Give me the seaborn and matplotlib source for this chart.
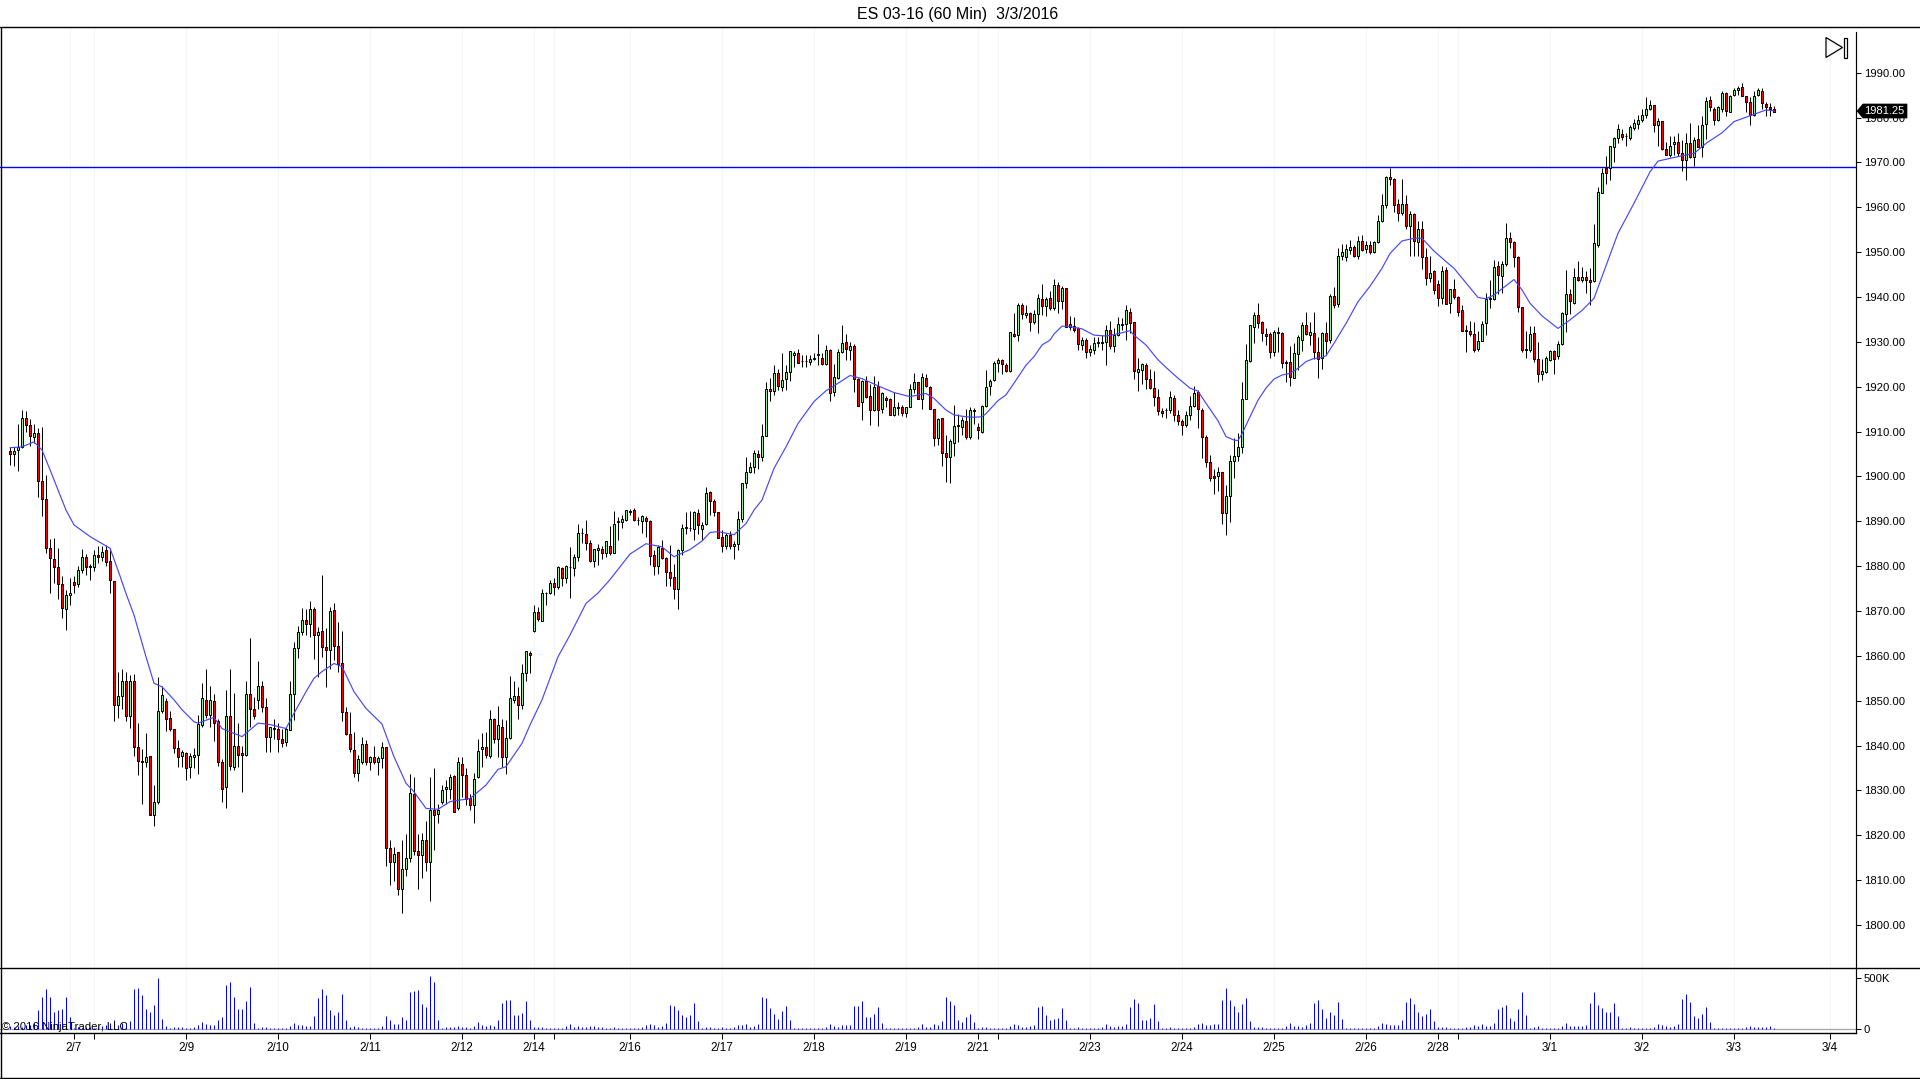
import numpy as np
import matplotlib
matplotlib.use("Agg")
import matplotlib.pyplot as plt
from matplotlib.lines import Line2D
from matplotlib.patches import Polygon, Rectangle
import seaborn as sns

opens = [
1905.75,1905,1906,1906.5,1913,1911.5,1908.75,1909.75,1899,1895,
1884,1881.5,1879.75,1876,1870.5,1873.5,1876.5,1876,1879.25,1882,
1880,1879.75,1882.5,1882,1883.5,1881.25,1876.75,1849,1851,1854.5,
1846.5,1854.5,1839.75,1836.5,1836.25,1837.75,1824.5,1827.5,1847.75,1850,
1846.25,1843.75,1839.5,1837.75,1838.25,1835.25,1837.5,1838,1844.5,1850.25,
1846.75,1850,1845.5,1836.25,1830.75,1846.5,1835.25,1840,1838.25,1838,
1851.5,1848.25,1850.25,1853.25,1848.5,1842,1844,1843.75,1841.5,1840.75,
1843.5,1851.5,1861.75,1865.25,1868,1867,1870.5,1864.75,1865.5,1862,
1861.25,1870.25,1862.25,1858.5,1847.5,1842.5,1839,1834,1836.25,1840.25,
1836.25,1837.5,1836.25,1837.25,1839.75,1817.25,1814,1816.25,1808,1812.5,
1815,1829.25,1816.5,1815.5,1819,1814,1825.75,1824.75,1827.5,1830.25,
1830.25,1833.25,1826,1836,1833.5,1828.25,1826.75,1833,
1839.25,1839.75,1837.75,1846,1841.5,1844.25,1837.5,1841.75,1850.25,1851,
1849,1856.25,1860.75,1865.5,1869.75,1867.75,1874,1874,1876.25,1875.25,
1879.5,1877.25,1879.75,1879.5,1882,1887.5,1887.25,1885.25,1881.25,1883.5,
1883.75,1883,1884.5,1883,1889.75,1889.75,1890.25,1892,1892.5,1890.25,
1890,1890.75,1890,1882.5,1880,1884,1881.75,1878.75,1877.5,1875,
1883.5,1888.5,1888.5,1888.25,1891.75,1888.25,1889.5,1896.5,1894.5,1892,
1886.5,1884.5,1887,1884.5,1885,1890.5,1898.5,1901,1902,1905,
1904.25,1909,1919.5,1919,1923,1920,1921.75,1923.25,1927,1927.5,
1925.75,1925.75,1925.5,1926.25,1927,1926.5,1925,1928.25,1918.75,1922,
1927.75,1930,1928.25,1929,1921.75,1916.5,1921.25,1918,1914.75,1920.25,
1915,1917.5,1917.25,1913.75,1915.25,1915.5,1914.25,1915.5,1919.5,1921,
1917.25,1922,1920,1915,1908.5,1913,1905.25,1904.25,1907.5,1911.25,
1911,1912.25,1908.75,1914.5,1911,1910,1915.75,1920.25,1921.5,1925.25,
1926,1924.75,1923.5,1931.75,1931.5,1938.25,1936,1936.5,1934.5,1936.25,
1939.5,1938,1939.75,1937.5,1942.75,1939,1942,1934,1933.5,1933,
1929.25,1930.5,1927.75,1928.25,1929.75,1929.75,1930,1932.75,1929,1931.5,
1933.75,1934,1936.75,1934.5,1923.25,1923.75,1924.75,1921.75,1919.75,1917.75,
1914.5,1914.75,1914.75,1917.5,1913.75,1912.25,1911.5,1913.75,1915.75,1918.75,
1914.75,1908.75,1903.25,1900,1900,1901,1891.75,1895.75,1903.5,1904.5,
1906.5,1917.25,1925.75,1933.25,1936,1934.5,1931.75,1931.75,1927.75,1932,
1932,1925.5,1925.5,1922,1927.25,1930.5,1933.75,1931.5,1932,1927.75,
1926.5,1932,1930.5,1940.25,1938.5,1949.25,1949,1950.5,1951.25,1949.25,
1952.5,1950.75,1951.5,1950,1952.25,1957,1960.5,1966.75,1966.25,1960.75,
1958.75,1960.75,1955.75,1958.5,1952.25,1955.25,1949,1944.25,1945.75,1943,
1939.75,1946,1938.75,1941.75,1940,1937,1932.75,1932.5,1931.75,1928.5,
1930.25,1934.25,1939.5,1939.5,1947,1944.75,1947.25,1953.25,1952.25,1949,
1937.75,1928.5,1928.25,1932,1926.25,1922.75,1923.25,1926,1928,1926.75,
1929.5,1936.25,1940.75,1938.75,1944.5,1943.75,1944.5,1943.75,1943.5,1951.5,
1963.25,1968.75,1968.75,1973.5,1975.5,1976.25,1976,1975.5,1977.75,1978.5,
1979.5,1980.5,1982,1982.75,1978.25,1979.25,1973,1971.75,1974,1974.5,
1972,1970.5,1974.25,1971.25,1975.25,1973.5,1978.5,1984,1982,1979.5,
1982,1985.5,1981.25,1985,1986.25,1986.75,1984.75,1983.5,1980.5,1985,
1986,1983,1982.25,1982]

highs = [
1906.5,1906.5,1911.75,1914.75,1914.5,1912.75,1911.75,1910.75,1911,1900.25,
1886,1886.25,1884,1877.75,1874.75,1877.25,1877.75,1880,1883.75,1882.75,
1880.5,1883.5,1884.5,1884.5,1884.75,1884,1876.75,1856.5,1857,1856.5,
1855.75,1856,1845,1839.25,1842.75,1837.75,1831.25,1855.25,1853.25,1850.5,
1847.75,1843.75,1841.25,1839,1838.5,1838.25,1839.5,1846.75,1854,1857,
1853.25,1851.5,1846,1837,1852.5,1857,1851.75,1845,1840,1854.5,
1864,1850.75,1858.75,1854.5,1850.5,1844.25,1846,1845,1843.75,1844.25,
1854.5,1863,1866.75,1870.75,1870.5,1872.25,1871,1866.5,1878,1866.25,
1871,1871.75,1867.5,1865.5,1848.5,1847.5,1843,1838,1842,1841.25,
1837.75,1840,1837.75,1840.75,1839.75,1819,1817.5,1816.25,1819,1820.25,
1833.75,1833,1820.25,1820.5,1823.25,1833,1835,1827,1831.25,1832.25,
1833.75,1833.5,1837.5,1837.5,1835,1829.25,1834,1841.5,
1842.75,1843,1848,1846.25,1848.75,1846,1845.75,1855.5,1854.5,1853,
1858.25,1861,1861,1871.25,1871,1875,1874.25,1877,1877.25,1880,
1879.75,1880.25,1884.25,1882.75,1889.5,1888.5,1890.25,1885.75,1883.75,1885,
1884.5,1885.5,1889,1892.25,1891,1891.5,1892.5,1892.75,1893,1891,
1891.5,1891.25,1890.25,1883.5,1884.75,1885.75,1882,1884.75,1880.5,1883.75,
1889.5,1892,1892.25,1892.25,1892.75,1889.75,1897.75,1896.75,1895,1892,
1888,1887.5,1887.75,1885.5,1892.25,1898.5,1904.25,1903.25,1906,1906,
1911.75,1921,1922,1924.75,1924,1927.5,1924.75,1928,1928,1928.5,
1927,1927,1927,1927.5,1931.75,1927.5,1929.25,1928.5,1925,1928.5,
1933.75,1931.75,1930,1929.5,1922,1921.5,1922.5,1920.5,1922.5,1921.25,
1918.75,1918,1917.5,1918.75,1916.5,1916,1915.5,1920.5,1923,1921,
1923,1922.75,1920.25,1915,1913,1913,1909.25,1908.25,1916,1914,
1913.25,1915,1915.5,1915.25,1912,1916,1923.75,1921.75,1925.75,1926.5,
1926.25,1925.25,1932.25,1936.5,1938.75,1938.75,1938.25,1936.75,1937,1940.75,
1943,1940,1941.25,1944,1943.25,1942.5,1942,1935.75,1935.5,1933.25,
1931,1930.75,1929.25,1931,1931,1931.5,1933.75,1934.75,1933,1935.5,
1935.25,1938.25,1937.5,1934.5,1926.5,1925.25,1925.25,1924,1923.5,1919.5,
1915.25,1915.25,1919,1918.25,1914.75,1912.75,1914.5,1918,1920.25,1919.25,
1915.25,1909.25,1904.75,1901.75,1902,1901,1898,1904.75,1908.5,1909.75,
1921,1929.5,1933.75,1936.75,1938.75,1934.75,1933,1932.25,1932.75,1933.25,
1932.25,1926,1929,1929.75,1931.5,1934.5,1936.75,1934.5,1936.75,1931,
1932.25,1934.5,1940.75,1942.25,1951,1951.75,1951.75,1952.75,1951.5,1953.5,
1953.75,1952.5,1952.5,1952.5,1958.25,1963,1967,1968.75,1966.5,1961.75,
1966.25,1962.75,1959.25,1958.75,1957,1957,1951,1949.25,1946,1943.75,
1947,1946.75,1941.75,1944,1940.25,1938.25,1933.75,1934.75,1934.5,1932.5,
1934.75,1941,1943.75,1948.25,1948,1948,1956.5,1954.5,1952.5,1949.25,
1937.75,1932.5,1933.5,1933.5,1930,1926.25,1926.75,1928.25,1928.25,1930.25,
1936.75,1946,1941.75,1946.5,1948,1946.75,1945.75,1946.5,1956.25,1964.5,
1968.75,1971.5,1973.75,1975.75,1978.5,1977.5,1976.5,1978.25,1979.75,1980.5,
1982,1984.5,1984,1982.75,1980,1979.25,1974.5,1976,1976,1976.5,
1975,1976.5,1978.75,1975.75,1978.25,1980.25,1984.5,1984.75,1982.25,1982.5,
1986,1985.75,1985,1986.5,1987,1987.75,1984.75,1984.5,1986,1986.5,
1986.5,1983.5,1983.25,1982.5]

lows = [
1902.5,1902.25,1901.25,1906.25,1910,1906.75,1907.5,1895.5,1891.25,1883,
1874,1876.25,1872.75,1868.5,1865.75,1871.25,1874,1875.25,1878.5,1878,
1877,1879,1880.75,1881.25,1880,1874,1845.5,1846.25,1848.25,1845.5,
1844,1837.75,1833.5,1827,1835.25,1824.5,1822,1827,1847.25,1843.25,
1843.25,1838.25,1835.25,1835.25,1832.25,1832.75,1835,1833.75,1844.25,1846.25,
1844.25,1841,1835.5,1827.5,1826,1834.5,1834.5,1835.25,1829.75,1837.75,
1844.25,1846,1848.25,1847.5,1838.5,1838.5,1841.5,1838.5,1839.75,1840,
1843.5,1845.75,1859.5,1864.75,1864.75,1864.25,1859.25,1855.25,1859.75,1853,
1857,1859,1856.5,1845.5,1842.25,1838.5,1833,1832,1836,1835.75,
1834.5,1836,1833.5,1835,1813.25,1809,1809.75,1806.75,1802.75,1811,
1814,1815.5,1808,1810.5,1812,1805.25,1816.75,1822.75,1827,1827,
1828,1825.25,1825.75,1828.5,1826.75,1825.75,1822.75,1832.75,
1835.25,1837.25,1837.25,1840.5,1837.5,1835.25,1833.75,1841.5,1849.5,1846,
1848.25,1854.5,1856.25,1865.25,1867.75,1867.75,1871.25,1873.75,1873.5,1875,
1875.5,1876.25,1873,1877.75,1881.25,1885.25,1883.5,1881,1879.75,1880.25,
1881.5,1882,1882.5,1883,1885.75,1888.5,1890,1891.5,1890,1889.25,
1887.5,1886.5,1880.25,1878,1878.25,1881.5,1875.5,1875.5,1872.75,1870.5,
1882.5,1887.25,1887.75,1885.75,1887.25,1885.75,1889.25,1891.5,1891.25,1886.25,
1883.25,1883.75,1883.75,1881.5,1883.5,1889.75,1897.5,1900.75,1900.75,1901.75,
1903.5,1909,1916.75,1918.25,1919.25,1919,1919.25,1921.25,1924.5,1925.25,
1924.5,1924.5,1924.75,1926,1924.75,1924.75,1924.75,1916.75,1918,1921.75,
1927.5,1926,1926,1918.75,1915.75,1912.5,1917.5,1911.5,1914.5,1911.25,
1914.25,1915.5,1913.75,1913.5,1913.75,1913.5,1913.25,1915.5,1918.5,1917.25,
1915,1920,1915,1906.75,1907,1902.25,1898.75,1898.5,1904.5,1907.75,
1909.25,1908.25,1908.25,1911.75,1908.25,1909.75,1915.5,1918.25,1921.25,1923.25,
1922.75,1923.25,1923.25,1931,1930.25,1935,1935.25,1932.5,1934,1932,
1936,1935.75,1937,1937,1936.5,1937.25,1933.25,1932.75,1932.25,1928.25,
1928.25,1926.5,1926.75,1927.25,1928.75,1928.25,1924.75,1928.5,1927.75,1931.25,
1932.75,1930.5,1932,1921.75,1919,1920.5,1919.5,1919.5,1915.75,1913.75,
1913.25,1913,1914.25,1912.25,1911.5,1909.25,1911,1912.5,1915.5,1910.75,
1904,1902,1899,1896,1896.75,1889.5,1887,1889.75,1899.75,1903.5,
1905.25,1917.25,1925.5,1929.75,1933,1930.25,1929.25,1926.5,1926.75,1927.75,
1924.25,1921,1920.25,1922,1923.75,1928,1931.5,1929.25,1926.25,1922,
1924,1927,1929.75,1937.5,1937.75,1948.25,1948,1949.5,1949,1948.5,
1950.25,1949.75,1949.5,1949.75,1952,1956.75,1959.75,1965,1959,1957,
1958.25,1955.25,1949.25,1949.25,1949.25,1946.25,1942.75,1943.25,1940.75,1938,
1938.5,1938.5,1936.5,1939.5,1935.75,1932.5,1927.75,1931.25,1927.75,1928,
1930.25,1931.5,1937.5,1939.25,1940.75,1941,1947,1951,1946.75,1936.75,
1927.75,1926.5,1927.75,1925.5,1921,1921.5,1923,1925.75,1922.75,1926.25,
1929.25,1932.25,1936.25,1938.5,1943.5,1943.25,1941,1938.25,1943.25,1951.25,
1963.25,1965.25,1966,1970,1974.25,1975,1973.75,1975,1977.25,1977.5,
1979,1980,1981.75,1976.75,1973.75,1972.75,1971.75,1971.25,1971.75,1971.5,
1968,1966,1971,1969.25,1973.5,1971.25,1975.25,1981.5,1978.25,1979.25,
1981.25,1980.25,1981.25,1984.75,1985,1984.75,1981.25,1978.25,1980.25,1984.75,
1982,1980.25,1980.25,1981.25]

closes = [
1905,1905.75,1906.5,1913,1911.5,1909,1909.75,1899,1895,1884,
1881.75,1879.75,1876,1870.75,1873.5,1874,1875.75,1879.25,1882,1879.75,
1879.75,1882.5,1882,1883.25,1881,1877,1849,1851,1854.5,1846.5,
1854.5,1839.75,1836.5,1836.25,1837.5,1824.5,1827.5,1847.75,1851.25,1846,
1843.75,1839.5,1837.5,1838.5,1835,1837.75,1838,1844.75,1850.5,1846.75,
1850.25,1845,1836.25,1830.25,1846.5,1835.5,1840,1838,1838,1851.5,
1848.25,1846.5,1853.25,1848.5,1842,1844.25,1843.75,1841.5,1840.5,1843.75,
1851.5,1861.75,1865.25,1868,1867,1870.5,1864.75,1865.25,1862,1861.25,
1870,1862.25,1858.25,1847.5,1842.5,1839.25,1834,1837,1840.25,1836.25,
1837.5,1836.25,1837.25,1839.75,1817.25,1814,1815.75,1808,1812.5,1815,
1829.5,1816.5,1815.5,1819,1814,1825.75,1824.5,1825.75,1830,1830.75,
1833,1825.25,1836.25,1833.5,1828,1826.75,1832.5,1838.75,
1839.75,1838,1846,1841.5,1844.5,1837.5,1841.75,1850.5,1851,1849,
1856.25,1861,1860.25,1869.75,1868.25,1874,1874,1876.25,1875.25,1879.75,
1877.25,1880,1879.75,1882,1887.5,1887.5,1885.25,1881.25,1883.75,1884,
1883,1885.5,1883,1889.5,1890,1890.5,1892.5,1892.25,1890.25,1890.25,
1891.25,1890,1882.25,1880,1884.25,1881.75,1878.75,1877.25,1875,1883.5,
1888.5,1888.75,1888.5,1892,1889.25,1889.25,1896.25,1894.5,1892,1886.25,
1884.5,1887,1884.5,1885,1890.5,1898.5,1901,1902,1905.25,1904.25,
1909,1919.5,1919,1923,1920.25,1921.5,1923.25,1928,1927.5,1925.25,
1925.75,1925.75,1926.25,1926.5,1927.25,1925,1928.25,1918.5,1922.25,1927.75,
1929.75,1928.5,1929,1921.75,1915.75,1921.25,1917.75,1914.75,1920,1914.75,
1918.5,1917,1913.75,1915.5,1915.5,1914.25,1915.5,1919.5,1921,1917.25,
1922.25,1920.25,1915,1908.5,1912.75,1905.25,1904.25,1908,1911.25,1911.5,
1912.5,1908.75,1914.75,1914.75,1910.25,1915.75,1920,1921.25,1925.25,1926,
1925,1923.5,1932.25,1931.25,1938.25,1936.25,1936.5,1934.5,1936.25,1939.75,
1938,1939.5,1937.5,1942.75,1939,1942,1933.25,1933.25,1932.75,1929.5,
1930.5,1927.75,1928.5,1929.75,1930,1930,1932.75,1929,1931.5,1934,
1934,1937,1934.25,1923.5,1924,1925,1921.75,1919.75,1917.75,1914.5,
1914.25,1914.75,1917.75,1913.75,1912.25,1911.5,1913.75,1915.75,1918.5,1915,
1908.75,1903.25,1899.75,1899.75,1901,1891.75,1895.75,1903.5,1904.5,1906.5,
1917.25,1926,1933.75,1936,1934.25,1932,1931.25,1927.75,1932.25,1932.25,
1925.25,1925.25,1922.25,1927.5,1931,1933.75,1931.75,1932.25,1927.75,1926.25,
1932,1930.25,1940.25,1938.25,1949.25,1950,1950.75,1951.25,1949.25,1952.5,
1950.5,1951.5,1950,1952.25,1957,1960.5,1966.75,1966.25,1960.5,1958.75,
1960.75,1955.75,1958.5,1952.5,1955.25,1949,1944.25,1945.25,1941.5,1939.75,
1945.75,1938.5,1941.75,1940,1936.75,1932.5,1932.5,1931.75,1928.25,1930.25,
1934,1939.5,1939.75,1946.75,1945,1947.25,1953.25,1952.25,1949,1937.75,
1928.25,1928.25,1931.75,1926.25,1922.75,1923.5,1926.5,1928,1926.25,1929.5,
1936.5,1940.75,1939,1944.5,1943.75,1944.5,1943.75,1943.25,1952,1963.5,
1967.75,1967.75,1973.75,1975.5,1977.5,1975.75,1976,1978,1978.75,1979.5,
1980.5,1982,1982.75,1978.25,1979.25,1973,1971.75,1973.75,1974.5,1972,
1970.5,1974.25,1971.25,1975,1973.5,1978.25,1983.75,1982.25,1979.5,1982.25,
1985.5,1981.5,1984.75,1986.25,1986.5,1984.75,1983.5,1980.5,1984.75,1986.25,
1983.25,1982.25,1982,1981.25]

volumes_k = [
25,20,30,22,40,35,60,187,313,390,
313,168,187,194,313,120,13,22,13,22,
22,13,22,32,42,58,90,42,58,58,
80,390,400,332,197,168,235,497,100,25,
10,22,22,22,13,13,16,35,70,52,
35,42,90,120,430,458,313,197,197,275,
410,60,13,22,22,13,13,13,13,13,
32,60,42,42,32,32,130,303,390,332,
187,139,168,342,90,22,32,22,13,13,
13,13,13,32,130,90,52,52,120,90,
360,370,380,245,216,516,458,90,13,22,
22,22,32,22,22,13,32,70,42,32,
42,32,90,255,284,284,139,139,158,274,
90,22,22,22,13,13,13,13,13,32,
52,22,32,22,22,32,32,22,22,13,
13,22,13,13,13,13,13,13,22,42,
52,42,22,32,60,235,226,187,139,120,
139,255,80,13,22,22,13,13,22,13,
13,22,42,42,52,22,32,52,313,303,
206,148,100,177,226,90,13,13,13,13,
13,10,13,13,22,52,32,22,42,42,
42,226,226,274,120,120,148,216,60,13,
13,13,13,13,13,13,13,22,52,22,
22,52,42,80,313,274,235,90,70,120,
148,70,13,22,22,13,13,13,13,13,
32,52,42,22,22,32,42,216,226,139,
90,100,110,206,90,13,13,22,13,13,
13,13,13,22,52,32,22,32,32,52,
216,294,255,90,90,110,245,80,13,13,
22,13,13,13,13,13,22,52,60,42,
42,52,52,284,400,284,226,168,245,303,
80,22,22,22,13,13,13,13,13,32,
60,32,32,22,42,60,255,284,197,110,
168,139,265,100,13,13,13,13,13,13,
13,13,32,60,52,42,42,42,90,265,
303,245,168,130,148,197,80,22,22,22,
13,13,13,13,22,22,42,32,52,32,
32,60,197,216,235,110,80,197,360,139,
13,22,32,13,13,13,13,13,32,60,
32,32,32,32,42,255,360,235,206,168,
168,255,130,13,13,22,13,13,13,13,
13,22,52,42,32,22,32,52,294,342,
265,130,110,148,216,70,13,13,13,13,
13,13,13,13,22,32,22,22,22,22,
32,13]

ma_bars = [0,3,6,8,10,12,14,16,20,25,27,29,31,34,36,38,41,43,46,47,51,53,58,60,62,65,69,71,74,76,78,81,83,86,89,93,96,99,101,104,107,110,115,117,
119,122,124,128,130,133,137,140,144,147,150,155,159,163,166,170,173,175,177,181,184,186,
188,191,194,197,201,204,206,210,213,217,221,225,229,231,234,236,239,
241,243,244,247,249,251,254,256,258,260,261,263,265,268,271,274,277,280,281,284,287,289,292,295,297,299,301,302,304,306,307,308,310,312,314,316,318,320,322,324,326,328,329,331,334,337,340,
343,345,348,351,353,356,359,361,367,369,371,376,378,380,383,387,390,393,396,402,406,410,412,417,421,424,428,431,435,439,441]
ma_values = [1906.4,1906.6,1907.7,1905.9,1901.5,1897,1892.5,1889.2,1886.6,1884,1879.1,1873.9,1869.1,1859.8,1853.9,1853.1,1850.2,1848,1845.3,1845,1846.3,1843.8,1842,1843.5,1845,1844.7,1843.8,1847.2,1852,1855,1856.5,1858.3,1857.6,1852,1848.3,1844.8,1837.5,1831.6,1829.7,1826,1825.8,1827.5,1828.2,1829.7,
1831.2,1834.7,1835.3,1840.5,1844.6,1850.2,1859.8,1864.65,1871.7,1874,1877,1882.7,1885,1884.3,1882.1,1883.7,1885.6,1887.5,1887.7,1887,1889.5,1892.5,
1894.75,1901.8,1906.6,1911.8,1916.7,1919.1,1920.2,1922.5,1921.8,1920.2,1918.7,1917.8,1918.5,1917.4,1914.8,1913.7,1913.3,
1913.2,1913.3,1914,1916.9,1918.2,1920.8,1924.8,1926.7,1929.3,1930.4,1931.75,1933.5,1933.4,1932.9,1931.5,1931.3,1931.8,1932.5,1931.5,1929.3,1926,1924.3,1921.9,1919.7,1919,1916.3,1913.7,1912.4,1908.9,1908.1,1908,1909.5,1913.3,1917,1919.7,1921.7,1922.6,1923,1924.1,1925.6,1926.3,1926.5,1926.9,1929.7,1934.1,1938.95,1942.4,
1946.4,1949.7,1952.5,1953.1,1953.1,1950.25,1947.9,1946.4,1939.9,1939.6,1940.45,1943.9,1941.6,1938.6,1935.8,1933,1934.9,1937,1939.7,1954.2,1960.9,1967.9,1970.3,1971.3,1972,1974.25,1976.6,1979.1,1980.4,1981.7,1981.5]

level_price = 1969.0
last_price_text = "1981.25"
title_text = "ES 03-16 (60 Min)  3/3/2016"
copyright_text = "\u00a9 2016 NinjaTrader, LLC"
date_ticks = [16,44,67,90,113,131,155,178,201,224,242,270,293,316,339,357,385,408,431,455]
date_labels = ["2/7","2/9","2/10","2/11","2/12","2/14","2/16","2/17","2/18","2/19","2/21","2/23","2/24","2/25","2/26","2/28","3/1","3/2","3/3","3/4"]
session_ticks = [21,136,247,362]
grid_bars = [15,21,44,67,90,113,131,136,155,178,201,224,242,247,270,293,316,339,357,362,385,408,431,455]
price_ticks = list(range(1800, 2000, 10))

sns.set_theme(style="white")
plt.rcParams["font.family"] = ["Liberation Sans", "DejaVu Sans"]
plt.rcParams["axes.unicode_minus"] = False

W, H = 1920, 1079
fig = plt.figure(figsize=(19.2, 10.79), dpi=100, facecolor="white")
def rect(l, t, r, b):
    return [l / W, 1 - b / H, (r - l) / W, (b - t) / H]
def P(x, y):
    return (x / W, 1 - y / H)

ax = fig.add_axes(rect(0, 27, 1856, 968))
axv = fig.add_axes(rect(0, 968, 1856, 1033))

x = np.arange(len(closes))
o, h, l, c = map(np.array, (opens, highs, lows, closes))
vol = np.array(volumes_k) * 1000.0
xlim = (-2.5, 461.5)

for a in (ax, axv):
    a.vlines(grid_bars, 0, 1, transform=a.get_xaxis_transform(), color="#f6f6f6", lw=0.75, zorder=0)

ax.axhline(level_price, color="#0000ff", lw=1.0, zorder=1)
ax.vlines(x, l, h, color="black", lw=0.72, zorder=2)
up = c >= o
body_colors = np.where(up, "#90ee90", "#ff0000")
ax.bar(x, np.abs(c - o), bottom=np.minimum(o, c), width=0.5, color=list(body_colors),
       edgecolor="black", linewidth=0.72, zorder=3)
sns.lineplot(x=ma_bars, y=ma_values, ax=ax, color="#4646ff", lw=0.85, estimator=None,
             errorbar=None, zorder=4)

axv.axhline(0, color="#a8a8a8", lw=0.9, zorder=1)
sns.barplot(x=x, y=vol, ax=axv, native_scale=True, color="#0000ff", saturation=1,
            width=0.02, linewidth=0.72, edgecolor="#0000ff", errorbar=None, zorder=2)

ax.set_xlim(xlim)
axv.set_xlim(xlim)
ax.set_ylim(1790.42, 2000.19)
axv.set_ylim(-39000, 598000)
ax.set_xlabel(""); ax.set_ylabel(""); axv.set_xlabel(""); axv.set_ylabel("")

ax.set_xticks([])
ax.yaxis.tick_right()
ax.set_yticks(price_ticks)
ax.set_yticklabels([f"{p:.2f}" for p in price_ticks])
ax.tick_params(axis="y", length=3.6, width=0.75, pad=2, labelsize=8.1, colors="black", right=True)

axv.yaxis.tick_right()
axv.set_yticks([0, 500000])
axv.set_yticklabels(["0", "500K"])
axv.tick_params(axis="y", length=3.6, width=0.75, pad=2, labelsize=8.1, colors="black", right=True)
axv.set_xticks(date_ticks + session_ticks)
axv.set_xticklabels(date_labels + [""] * len(session_ticks))
axv.tick_params(axis="x", length=4.5, width=0.75, pad=2.2, labelsize=8.4, colors="black", bottom=True)

for a in (ax, axv):
    for s in ("top", "left", "bottom", "right"):
        a.spines[s].set_visible(False)
    a.spines["right"].set_visible(True)
    a.spines["right"].set_color("black")
    a.spines["right"].set_linewidth(0.85)
    a.set_facecolor("white")
ax.spines["right"].set_bounds(1790.42, 1999.0)
axv.spines["bottom"].set_visible(True)
axv.spines["bottom"].set_color("black")
axv.spines["bottom"].set_linewidth(1.0)

for (x0, y0, x1, y1) in [(0, 27, W, 27), (0, 968, W, 968), (0, 1078, W, 1078), (0.5, 27, 0.5, 1078)]:
    fig.add_artist(Line2D([x0 / W, x1 / W], [1 - y0 / H, 1 - y1 / H], color="black", lw=1.0,
                          transform=fig.transFigure))

fig.text(958 / W, 1 - 14 / H, title_text, ha="center", va="center", fontsize=11.5, color="black")
fig.text(2 / W, 1 - 1027 / H, copyright_text, ha="left", va="center", fontsize=8.2, color="black", zorder=10)

# last price tag
fig.add_artist(Polygon([P(1857, 111), P(1863, 104), P(1907, 104), P(1907, 118), P(1863, 118)],
                       closed=True, facecolor="black", edgecolor="black", lw=0.5,
                       transform=fig.transFigure, zorder=20))
fig.text(1864.5 / W, 1 - 111.5 / H, last_price_text, ha="left", va="center", fontsize=8.0,
         color="white", zorder=21)

# go-to-end icon
fig.add_artist(Polygon([P(1826, 37.5), P(1826, 57.5), P(1842.5, 47.5)], closed=True, facecolor="white",
                       edgecolor="black", lw=0.9, transform=fig.transFigure, zorder=20))
fig.add_artist(Rectangle(P(1843.5, 57.5), 3.2 / W, 20 / H, facecolor="white", edgecolor="black", lw=0.9,
                         transform=fig.transFigure, zorder=20))

fig.savefig("out.png", dpi=100, facecolor="white")
